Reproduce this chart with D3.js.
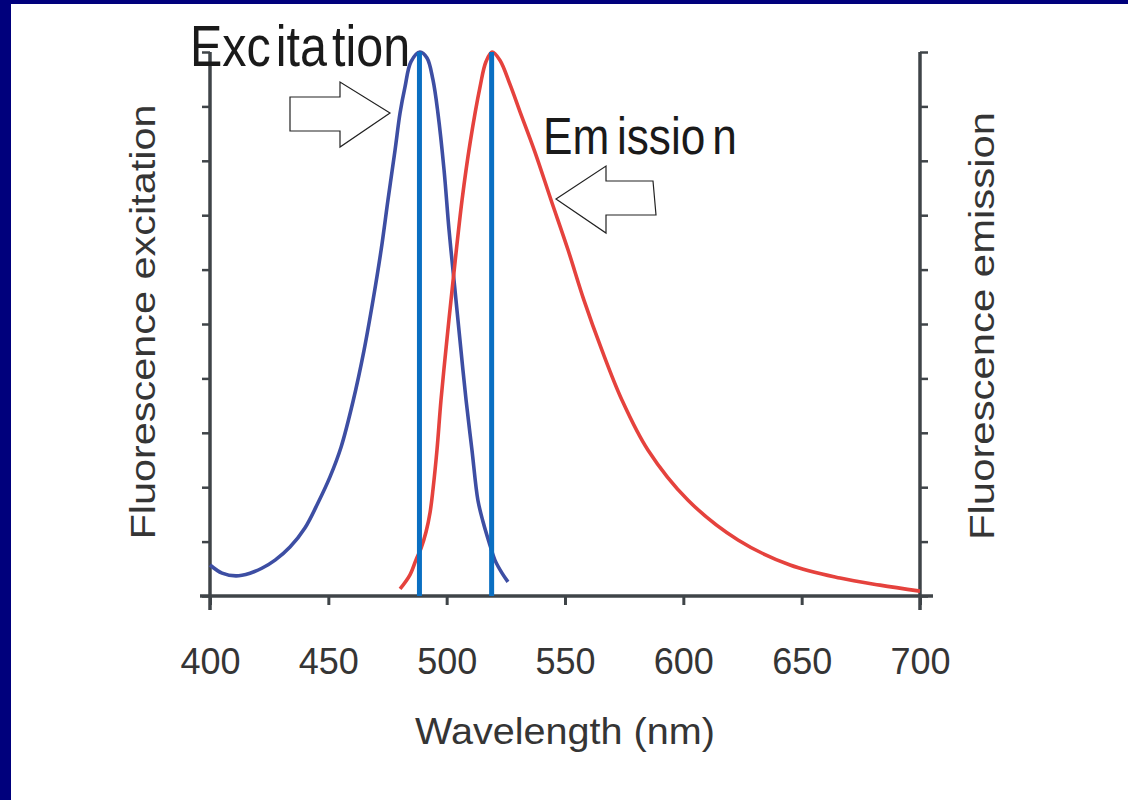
<!DOCTYPE html>
<html><head><meta charset="utf-8">
<script src="https://cdn.jsdelivr.net/npm/d3@7"></script>
<style>
html,body{margin:0;padding:0;background:#fff;}
svg{display:block;}
text{font-family:"Liberation Sans",Arial,sans-serif;}
</style></head>
<body>
<svg id="chart" width="1128" height="800"></svg>
<script>
// ---- data ----
const xTicks = [400, 450, 500, 550, 600, 650, 700];
const yTicks = [0, 10, 20, 30, 40, 50, 60, 70, 80, 90, 100];
const laserLines = [488.5, 519];

const excWavelength = [400.0,405.1,411.0,416.9,421.9,427.5,433.8,440.1,445.6,450.7,455.4,460.4,465.1,468.9,472.3,475.2,478.2,480.3,482.4,484.9,488.7,491.7,494.2,496.3,498.9,501.0,503.5,505.6,508.2,510.7,513.2,515.4,517.9,520.4,523.4,525.9];
const excValue      = [5.7,4.2,3.7,4.2,5.1,6.6,9.0,12.5,17.1,21.9,27.4,35.7,45.2,54.4,63.6,72.8,82.0,88.8,93.6,98.2,100,98.9,94.9,88.8,78.3,67.3,56.3,47.1,36.0,26.8,17.6,13.6,9.9,6.6,4.2,2.6];

const emWavelength = [480.3,484.5,487.0,489.2,491.3,493.0,494.2,495.9,497.6,500.1,502.3,506.5,509.9,514.1,516.6,519.2,522.5,526.8,531.0,537.3,544.1,551.3,558.0,565.6,574.1,585.1,602.0,623.1,645.1,666.2,683.1,700];
const emValue      = [1.3,3.9,6.6,8.8,11.8,15.4,19.5,26.8,36.0,47.1,56.3,72.8,83.3,93.6,98.2,100,98.5,94.0,89.0,81.6,72.8,63.6,54.4,45.2,36.0,26.8,17.6,10.3,5.7,3.3,2.0,0.9];

const xLabel = "Wavelength (nm)";
const yLeftLabel = "Fluorescence excitation";
const yRightLabel = "Fluorescence emission";
const excTitleParts = ["Exc", "ita", "tion"];
const emTitleParts = ["Em", "issio", "n"];

// ---- layout ----
const svg = d3.select("#chart");
const W = 1128, H = 800;
const mLeft = 210, mRight = 920, mTop = 52, mBottom = 596;

// background frame
svg.append("rect").attr("x",0).attr("y",0).attr("width",W).attr("height",H).attr("fill","#ffffff");
svg.append("rect").attr("x",0).attr("y",0).attr("width",W).attr("height",4).attr("fill","#00007c");
svg.append("rect").attr("x",0).attr("y",0).attr("width",11).attr("height",H).attr("fill","#00007c");

const x = d3.scaleLinear().domain([400,700]).range([mLeft,mRight]);
const y = d3.scaleLinear().domain([0,100]).range([mBottom,mTop]);

const axisColor = "#3f4448";

// x axis
const gx = svg.append("g").attr("transform",`translate(0,${mBottom})`)
  .call(d3.axisBottom(x).tickValues(xTicks).tickSize(9).tickSizeOuter(0).tickPadding(14));
gx.select(".domain").remove();
gx.selectAll(".tick line").attr("stroke",axisColor).attr("stroke-width",3);
gx.selectAll(".tick text").attr("fill","#353535").attr("font-size",36)
  .attr("font-family","'Liberation Sans',Arial,sans-serif").attr("y",52).attr("dy","0.71em");

// left axis
const gl = svg.append("g").attr("transform",`translate(${mLeft},0)`)
  .call(d3.axisLeft(y).tickValues(yTicks).tickSize(8).tickSizeOuter(0).tickFormat(""));
gl.select(".domain").remove();
gl.selectAll(".tick line").attr("stroke",axisColor).attr("stroke-width",2.5);

// right axis
const gr = svg.append("g").attr("transform",`translate(${mRight},0)`)
  .call(d3.axisRight(y).tickValues(yTicks).tickSize(8).tickSizeOuter(0).tickFormat(""));
gr.select(".domain").remove();
gr.selectAll(".tick line").attr("stroke",axisColor).attr("stroke-width",2.5);

// axis lines (slightly extended past the crossings)
svg.append("line").attr("x1",x(400)-10).attr("x2",x(700)+13).attr("y1",y(0)).attr("y2",y(0))
  .attr("stroke",axisColor).attr("stroke-width",3.5);
svg.append("line").attr("x1",x(400)).attr("x2",x(400)).attr("y1",y(100)).attr("y2",y(0)+14)
  .attr("stroke",axisColor).attr("stroke-width",3.5);
svg.append("line").attr("x1",x(700)).attr("x2",x(700)).attr("y1",y(100)).attr("y2",y(0)+14)
  .attr("stroke",axisColor).attr("stroke-width",3.5);

// curves
const line = d3.line().x(d=>x(d[0])).y(d=>y(d[1])).curve(d3.curveCatmullRom.alpha(0.5));
const exc = excWavelength.map((w,i)=>[w,excValue[i]]);
const em = emWavelength.map((w,i)=>[w,emValue[i]]);

svg.append("path").datum(exc).attr("d",line).attr("fill","none")
  .attr("stroke","#3d4ea3").attr("stroke-width",3.6).attr("stroke-linejoin","round");
svg.append("path").datum(em).attr("d",line).attr("fill","none")
  .attr("stroke","#e5423d").attr("stroke-width",3.6).attr("stroke-linejoin","round");

// laser lines
svg.selectAll(".laser").data(laserLines).enter().append("line")
  .attr("x1",d=>x(d)).attr("x2",d=>x(d)).attr("y1",y(100)).attr("y2",y(0))
  .attr("stroke","#0a6fc2").attr("stroke-width",5);

// axis titles
svg.append("text").attr("x",565).attr("y",744).attr("text-anchor","middle")
  .attr("font-size",36).attr("fill","#353535").attr("textLength",300).attr("lengthAdjust","spacingAndGlyphs")
  .text(xLabel);
svg.append("text").attr("transform","translate(155,322) rotate(-90)").attr("text-anchor","middle")
  .attr("font-size",35).attr("fill","#353535").attr("textLength",435).attr("lengthAdjust","spacingAndGlyphs")
  .text(yLeftLabel);
svg.append("text").attr("transform","translate(994,326) rotate(-90)").attr("text-anchor","middle")
  .attr("font-size",35).attr("fill","#353535").attr("textLength",428).attr("lengthAdjust","spacingAndGlyphs")
  .text(yRightLabel);

// annotation titles (condensed, with the uneven spacing of the original)
function title(parts, tx, ty, size, sx, gaps){
  const t = svg.append("text").attr("transform",`translate(${tx},${ty}) scale(${sx},1)`)
    .attr("font-size",size).attr("fill","#1a1a1a");
  parts.forEach((p,i)=>{ t.append("tspan").attr("dx", i===0?0:gaps[i-1]).text(p); });
}
title(excTitleParts, 190, 66, 57, 0.85, [6, 6]);
title(emTitleParts, 543, 154, 52, 0.85, [9, 8]);

// block arrows
const arrowR = [[290,97],[340,97],[340,82],[390,113],[340,147],[340,131],[290,131]];
const arrowL = [[653,181],[606,181],[606,166],[556,199],[606,233],[606,215],[656,215]];
[arrowR, arrowL].forEach(pts=>{
  svg.append("path").attr("d", d3.line()(pts)+"Z").attr("fill","#fff")
    .attr("stroke","#222").attr("stroke-width",1.2).attr("stroke-linejoin","miter");
});
</script>
</body></html>
